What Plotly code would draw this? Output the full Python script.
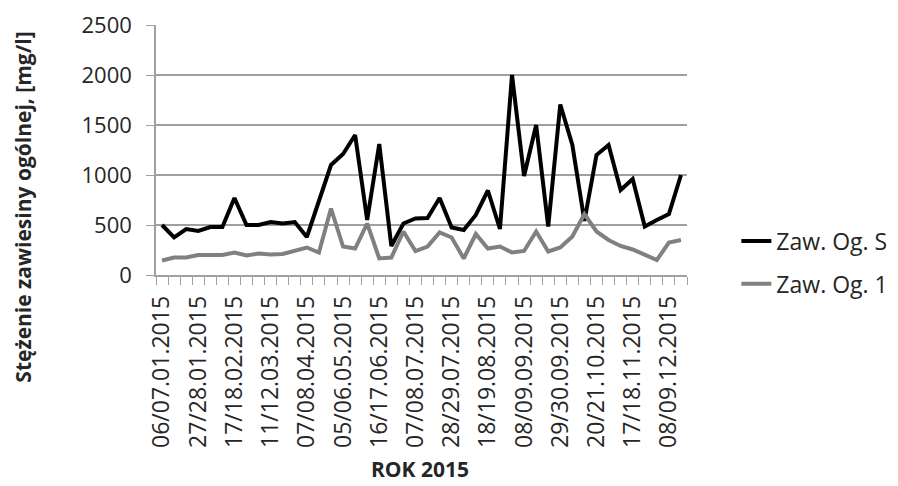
import plotly.graph_objects as go

categories = [
    "06/07.01.2015", "13/14.01.2015", "20/21.01.2015", "27/28.01.2015",
    "03/04.02.2015", "10/11.02.2015", "17/18.02.2015", "24/25.02.2015",
    "03/04.03.2015", "11/12.03.2015", "18/19.03.2015", "25/26.03.2015",
    "07/08.04.2015", "14/15.04.2015", "21/22.04.2015", "05/06.05.2015",
    "19/20.05.2015", "02/03.06.2015", "16/17.06.2015", "23/24.06.2015",
    "30.06/01.07.2015", "07/08.07.2015", "14/15.07.2015", "21/22.07.2015",
    "28/29.07.2015", "04/05.08.2015", "11/12.08.2015", "18/19.08.2015",
    "25/26.08.2015", "01/02.09.2015", "08/09.09.2015", "15/16.09.2015",
    "22/23.09.2015", "29/30.09.2015", "06/07.10.2015", "13/14.10.2015",
    "20/21.10.2015", "27/28.10.2015", "04/05.11.2015", "17/18.11.2015",
    "24/25.11.2015", "01/02.12.2015", "08/09.12.2015", "15/16.12.2015",
]

zaw_og_s = [
    500, 375, 460, 440, 480, 480, 770, 500, 500, 530, 515, 530,
    380, 750, 1100, 1210, 1400, 550, 1310, 290, 515, 565, 570, 770,
    475, 450, 600, 845, 460, 2000, 990, 1500, 485, 1705, 1300, 540,
    1200, 1300, 850, 960, 485, 550, 610, 1000,
]

zaw_og_1 = [
    145, 175, 175, 200, 200, 200, 225, 195, 215, 205, 210, 245,
    275, 225, 665, 285, 265, 515, 165, 175, 435, 240, 285, 425,
    375, 165, 410, 265, 285, 225, 240, 435, 235, 275, 385, 610,
    435, 350, 290, 255, 205, 150, 325, 350,
]

series_names = ["Zaw. Og. S", "Zaw. Og. 1"]
y_title = "Stężenie zawiesiny ogólnej, [mg/l]"
x_title = "ROK 2015"
label_step = 3

idx = list(range(len(categories)))
tick_idx = idx[::label_step]
tick_text = [categories[i] for i in tick_idx]

FONT = "Open Sans"
TXT = "#262626"
GRID = "#a0a0a0"

fig = go.Figure()
fig.add_trace(go.Scatter(x=idx, y=zaw_og_s, mode="lines", name=series_names[0],
                         line=dict(color="#000000", width=4), legendgroup="a"))
fig.add_trace(go.Scatter(x=idx, y=zaw_og_1, mode="lines", name=series_names[1],
                         line=dict(color="#808080", width=4), legendgroup="b"))

fig.update_layout(
    width=898, height=486,
    margin=dict(l=156, r=211, t=25, b=211, autoexpand=False),
    paper_bgcolor="white", plot_bgcolor="white",
    font=dict(family=FONT, color=TXT),
    showlegend=True,
    legend=dict(xref="container", yref="container",
                x=0.82, xanchor="left", y=0.46, yanchor="middle",
                font=dict(family=FONT, size=23, color=TXT),
                tracegroupgap=10, traceorder="grouped",
                bgcolor="rgba(0,0,0,0)"),
    xaxis=dict(
        range=[-0.5, len(categories) - 0.5],
        tickmode="array", tickvals=tick_idx, ticktext=tick_text,
        tickangle=-90, tickfont=dict(family=FONT, size=23, color=TXT),
        ticks="", showgrid=False, zeroline=False, ticklabelstandoff=10,
        showline=True, linecolor=GRID, linewidth=1.5,
        minor=dict(ticks="outside", tick0=0.5, dtick=1, ticklen=8,
                   tickcolor=GRID, tickwidth=1, showgrid=False),
    ),
    yaxis=dict(
        range=[0, 2500], dtick=500, tick0=0,
        tickfont=dict(family=FONT, size=22, color=TXT),
        ticks="outside", ticklen=8, tickcolor=GRID, ticklabelstandoff=10,
        showgrid=True, gridcolor=GRID, gridwidth=1.5,
        zeroline=False, showline=True, linecolor=GRID, linewidth=1.5,
    ),
    annotations=[
        dict(text="<b>" + y_title + "</b>", textangle=-90,
             xref="paper", yref="paper", x=-0.252, y=0.27,
             xanchor="center", yanchor="middle", showarrow=False,
             font=dict(family=FONT, size=21, color=TXT)),
        dict(text="<b>" + x_title + "</b>",
             xref="paper", yref="paper", x=0.497, y=-0.84,
             xanchor="center", yanchor="bottom", showarrow=False,
             font=dict(family=FONT, size=21, color=TXT)),
    ],
)

fig.write_html("out.html", config={"displayModeBar": False},
               post_script="document.body.style.margin='0';document.body.style.overflow='hidden';")
